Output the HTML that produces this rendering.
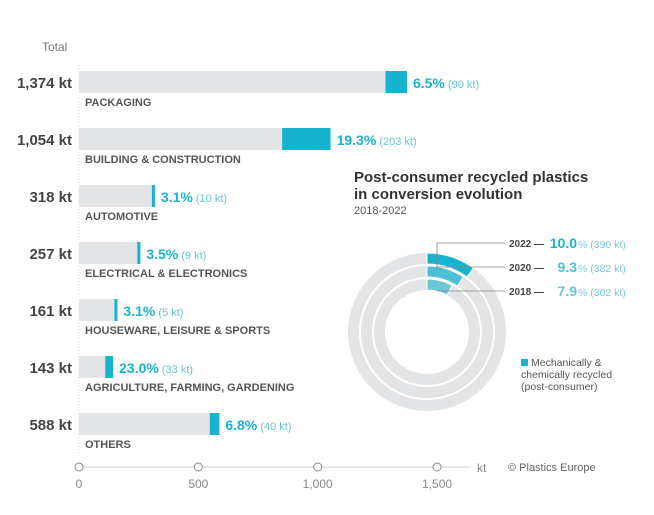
<!DOCTYPE html>
<html><head><meta charset="utf-8"><style>
body{margin:0;background:#fff;}
svg{display:block;font-family:"Liberation Sans",sans-serif;}
</style></head><body>
<svg id="c" width="654" height="515" viewBox="0 0 654 515">
<text x="42" y="51" font-size="12" fill="#777">Total</text>
<line x1="79" y1="65" x2="79" y2="455" stroke="#ddd" stroke-dasharray="1,2"/>
<g id="bars"></g>
<g id="axis"></g>
<text x="477" y="472" font-size="12" fill="#888">kt</text>
<text x="508" y="471" font-size="11" fill="#666">© Plastics Europe</text>
<text x="354" y="182" font-size="15" font-weight="bold" fill="#333">Post-consumer recycled plastics</text>
<text x="354" y="199" font-size="15" font-weight="bold" fill="#333">in conversion evolution</text>
<text x="354" y="214" font-size="11" fill="#555">2018-2022</text>
<g id="donut"></g>
<rect x="521" y="359" width="7" height="7" fill="#1ab3cf"/>
<text font-size="10.5" fill="#555"><tspan x="531" y="366">Mechanically &amp;</tspan><tspan x="521" y="378">chemically recycled</tspan><tspan x="521" y="390">(post-consumer)</tspan></text>
</svg>
<script>
const categories=["PACKAGING","BUILDING & CONSTRUCTION","AUTOMOTIVE","ELECTRICAL & ELECTRONICS","HOUSEWARE, LEISURE & SPORTS","AGRICULTURE, FARMING, GARDENING","OTHERS"];
const totals=[1374,1054,318,257,161,143,588];
const recycled=[90,203,10,9,5,33,40];
const shares=["6.5%","19.3%","3.1%","3.5%","3.1%","23.0%","6.8%"];
const ticks=[0,500,1000,1500];
const tickLabels=["0","500","1,000","1,500"];
const years=["2022","2020","2018"];
const yearShares=[10.0,9.3,7.9];
const yearKt=[390,382,302];

const NS="http://www.w3.org/2000/svg";
function mk(t,a,p){const e=document.createElementNS(NS,t);for(const k in a)e.setAttribute(k,a[k]);p.appendChild(e);return e;}
const x=v=>79+v*0.2387;
const rowY=i=>82+i*57;
const bars=document.getElementById('bars');
categories.forEach((c,i)=>{
  const y=rowY(i);
  const g=mk('g',{},bars);
  
  
  const tl=mk('text',{x:72,y:y+6,'font-size':15,'font-weight':'bold',fill:'#444','text-anchor':'end'},g);
  tl.textContent=totals[i].toLocaleString('en-US')+' kt';
  
  
  const b=mk('rect',{x:79,y:y-11,width:x(totals[i])-79,height:22,fill:'#e3e4e6'},g);
  
  
  const w=Math.max(3,recycled[i]*0.2387);
  const r=mk('rect',{x:x(totals[i])-w,y:y-11,width:w,height:22,fill:'#17b2d0'},g);
  
  
  const v=mk('text',{x:x(totals[i])+6,y:y+6,'font-size':14,'font-weight':'bold',fill:'#1ab3cf'},g);
  v.textContent=shares[i];
  
  
  const s=mk('tspan',{'font-size':11,'font-weight':'normal',fill:'#6bc4d6'},v);
  s.textContent=' ('+recycled[i]+' kt)';
  const cl=mk('text',{x:85,y:y+24,'font-size':11,'font-weight':'bold',fill:'#555'},g);
  cl.textContent=c;
  
  
});
const ax=document.getElementById('axis');
const al=mk('line',{x1:79,y1:467,x2:471,y2:467,stroke:'#ddd','stroke-width':1.5},ax);


ticks.forEach((t,i)=>{
  const c=mk('circle',{cx:x(t),cy:467,r:4,fill:'#fff',stroke:'#888','stroke-width':1},ax);
  
  
  const l=mk('text',{x:x(t),y:488,'font-size':12,fill:'#888','text-anchor':'middle'},ax);
  l.textContent=tickLabels[i];
  
  
});
const d=document.getElementById('donut');
const cx=427,cy=332;
const rings=[[68,79],[55,66],[42,53]];
const cols=['#1ab3cf','#4dbfd3','#6cc6d6'];
function arc(r0,r1,a){const a1=a*Math.PI/180;const la=a>180?1:0;
 const p=(r,t)=>[cx+r*Math.sin(t),cy-r*Math.cos(t)];
 const [x1,y1]=p(r1,0),[x2,y2]=p(r1,a1),[x3,y3]=p(r0,a1),[x4,y4]=p(r0,0);
 return `M${x1},${y1}A${r1},${r1} 0 ${la} 1 ${x2},${y2}L${x3},${y3}A${r0},${r0} 0 ${la} 0 ${x4},${y4}Z`;}
rings.forEach((rr,i)=>{
  const bg=mk('circle',{cx,cy,r:(rr[0]+rr[1])/2,fill:'none',stroke:'#e3e4e6','stroke-width':rr[1]-rr[0]},d);
  
  
  const s=mk('path',{d:arc(rr[0],rr[1],yearShares[i]*3.6),fill:cols[i],stroke:'#fff','stroke-width':1},d);
  
  
});
const ly=[243,267,291];
const lines=["437,270 437,243 505,243","437,267 505,267","437,291 505,291"];
ly.forEach((yy,i)=>{
  const ln=mk('polyline',{points:lines[i],fill:'none',stroke:'#888','stroke-width':0.8},d);
  
  
  const yt=mk('text',{x:509,y:yy+4,'font-size':10,'font-weight':'bold',fill:'#444'},d);
  yt.textContent=years[i]+' —';
  
  
  const vt=mk('text',{x:577,y:yy+5,'font-size':14,'font-weight':'bold',fill:cols[i],'text-anchor':'end'},d);
  vt.textContent=yearShares[i].toFixed(1);
  
  
  const kt=mk('text',{x:578,y:yy+5,'font-size':10.5,fill:'#7bc9d8'},d);
  kt.textContent='%  ('+yearKt[i]+' kt)';
  
  
});
</script>
</body></html>
